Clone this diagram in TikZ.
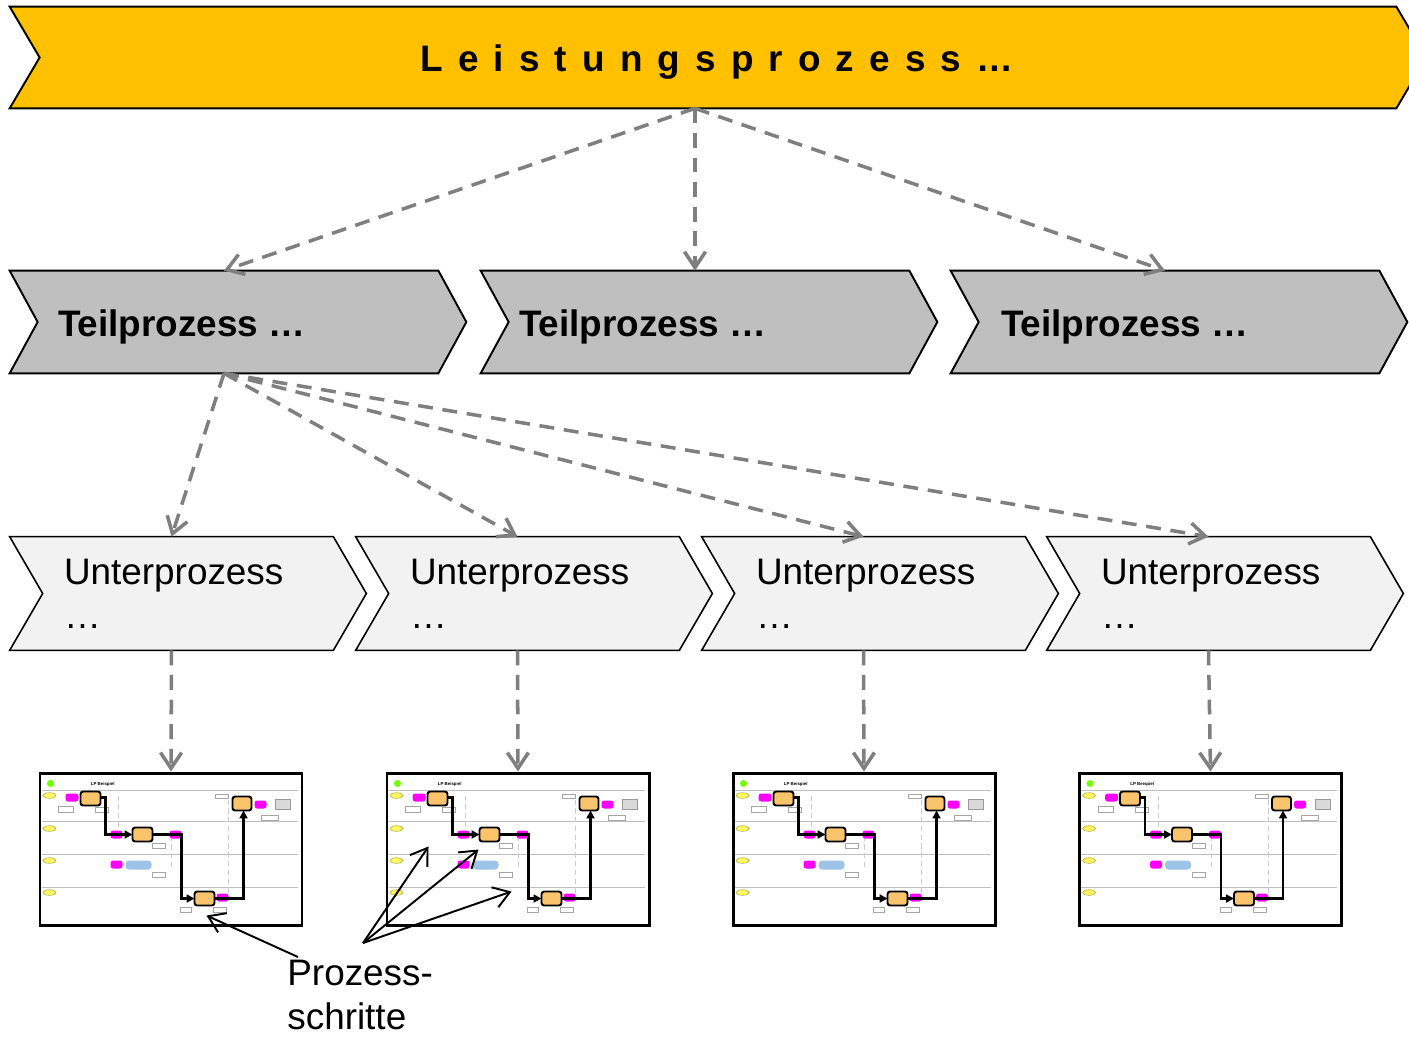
\documentclass[tikz,border=0pt]{standalone}
\usepackage{fontspec}
\setmainfont{Liberation Sans}
\usetikzlibrary{arrows.meta,positioning,calc,backgrounds}
\definecolor{lpGelb}{HTML}{FFC000}
\definecolor{tpGrau}{HTML}{BFBFBF}
\definecolor{upGrau}{HTML}{F2F2F2}
\definecolor{pfeilGrau}{HTML}{7F7F7F}
\definecolor{schrittOrange}{HTML}{F9C46B}
\definecolor{ereignisMagenta}{HTML}{FF00FF}
\definecolor{infoBlau}{HTML}{9DC3E6}
\newlength{\px}
\setlength{\px}{0.02cm}
% chevron round a body node: name, depth of tip and notch, style
\newcommand{\chevron}[3]{%
  \draw[#3] (#1.north west) -- (#1.north east) -- ($(#1.east)+(#2,0)$)
    -- (#1.south east) -- (#1.south west) -- ($(#1.west)+(#2,0)$) -- cycle;}

\tikzset{
  % small process map inside each frame (origin = top left corner)
  prozesskarte/.pic={
    % lanes
    \foreach \y in {19,50,83,116}
      \draw[black!25,line width=0.4pt] (3,\y) -- (259,\y);
    \draw[black!20,line width=0.3pt,densely dashed]
      (80,24) -- (80,62) (133,64) -- (133,97) (190,28) -- (190,128);
    % header
    \fill[green!55!yellow] (12,12) circle (3.5);
    \node[font=\fontsize{2.5}{3}\selectfont\bfseries,anchor=west] (titel) at (52,13) {LP Beispiel};
    % roles
    \foreach \y in {24,57,89,121}
      \draw[olive!70,fill=yellow!60,line width=0.3pt] (11,\y) ellipse (6.5 and 2.8);
    % events
    \foreach \a/\b/\c/\d in {27/22/40/30,72/59/84/67,131/59/143/67,
                             72/89/84/97,178/122/190/130,216/29/228/37}
      \fill[ereignisMagenta,rounded corners=1.5pt] (\a,\b) rectangle (\c,\d);
    \fill[infoBlau,rounded corners=2pt] (87,89) rectangle (113,98);
    \draw[black!40,fill=black!15,line width=0.3pt] (237,28) rectangle (252,38);
    % documents
    \foreach \a/\b/\c/\d in {20/35/35/41,57/36/70/41,177/23/190/27,223/44/240/49,
                             114/72/127/77,114/101/127/106,142/136/153/141,175/136/188/141}
      \draw[black!35,fill=white,line width=0.3pt] (\a,\b) rectangle (\c,\d);
    % flow
    \draw[fluss] (62,26) -- (67,26) -- (67,63) -- (94,63);
    \draw[fluss] (114,63) -- (143,63) -- (143,127) -- (156,127);
    \draw[fluss] (176,127) -- (205,127) -- (205,39);
    % steps
    \foreach \a/\b/\c/\d in {42/20/62/34,94/56/114/70,156/120/176/134,194/25/213/39}
      \draw[black,fill=schrittOrange,line width=1.1pt,rounded corners=1.5pt] (\a,\b) rectangle (\c,\d);
  }
}

\begin{document}
\begin{tikzpicture}[x=\px,y=-\px,
  every node/.style={inner sep=0pt},
  lpbalken/.style={minimum width=1386\px,minimum height=101\px},
  lptext/.style={font={\fontsize{21}{25}\selectfont\bfseries\addfontfeature{LetterSpace=41}}},
  tpbalken/.style={minimum width=428\px,minimum height=102\px},
  upbalken/.style={minimum width=323\px,minimum height=113\px},
  tptext/.style={anchor=west,font=\fontsize{21}{25}\selectfont\bfseries},
  uptext/.style={anchor=west,align=left,font=\fontsize{21}{25}\selectfont},
  karte/.style={draw,line width=1.7pt,fill=white,minimum width=262\px,minimum height=152\px},
  fluss/.style={black,line width=1.5pt,-{Triangle[length=4.5pt,width=4.5pt]}},
  abwaerts/.style={pfeilGrau,line width=2pt,dash pattern=on 8.5pt off 5.5pt,
    -{Straight Barb[length=9pt,width=12pt]}},
  hinweis/.style={line width=1.1pt,-{Straight Barb[length=9pt,width=12pt]}},
]
\useasboundingbox (0,0) rectangle (1409,1038);

% main process
\node[lpbalken] (lp) at (703,57.5) {};
\node[lptext] (lptxt) at (717,62) {Leistungsprozess…};

% sub processes
\node[tpbalken] (t1) at (224,322) {};
\node[tpbalken] (t2) at (695,322) {};
\node[tpbalken] (t3) at (1165,322) {};
\foreach \i/\dx in {1/48,2/38,3/50}
  \node[tptext] (t\i txt) at ($(t\i.west)+(\dx,5)$) {Teilprozess …};

% lower level
\node[upbalken] (u1) at (171.5,593.5) {};
\node[upbalken] (u2) at (517.5,593.5) {};
\node[upbalken] (u3) at (863.5,593.5) {};
\node[upbalken] (u4) at (1208.5,593.5) {};
\foreach \i in {1,...,4}
  \node[uptext] (u\i txt) at ($(u\i.west)+(54,0)$) {Unterprozess\\…};

\begin{scope}[on background layer]
  \chevron{lp}{30}{fill=lpGelb,line width=1.1pt}
  \foreach \i in {1,2,3}
    {\chevron{t\i}{28}{fill=tpGrau,line width=1.1pt}}
  \foreach \i in {1,...,4}
    {\chevron{u\i}{33}{fill=upGrau,line width=0.9pt}}
\end{scope}

% process maps
\node[karte] (k1) at (171,849) {};
\node[karte] (k2) at (518,849) {};
\node[karte] (k3) at (864,849) {};
\node[karte] (k4) at (1210.5,849) {};
\foreach \i in {1,...,4}
  \pic (k\i map) at (k\i.north west) {prozesskarte};

% refinement
\coordinate (lpfuss) at (t2.north |- lp.south);
\foreach \i in {1,2,3}
  \draw[abwaerts] (lpfuss) -- (t\i.north);
\foreach \i in {1,...,4}
  \draw[abwaerts] (t1.south) -- (u\i.north);
\foreach \i in {1,...,4}
  \draw[abwaerts] (u\i.south) -- (k\i.north);

% steps label
\node[uptext,anchor=north west] (schritte) at (287,960) {Prozess-\\schritte};
\coordinate (s1) at (298,957);
\coordinate (s2) at (363,943);
\coordinate (ziel1) at ($(k1.north west)+(168,144)$);
\coordinate (ziel2) at ($(k2.north west)+(43,75)$);
\coordinate (ziel3) at ($(k2.north west)+(93,78)$);
\coordinate (ziel4) at ($(k2.north west)+(126,120)$);
\draw[hinweis] (s1) -- (ziel1);
\foreach \i in {2,3,4}
  \draw[hinweis] (s2) -- (ziel\i);
\end{tikzpicture}
\end{document}
